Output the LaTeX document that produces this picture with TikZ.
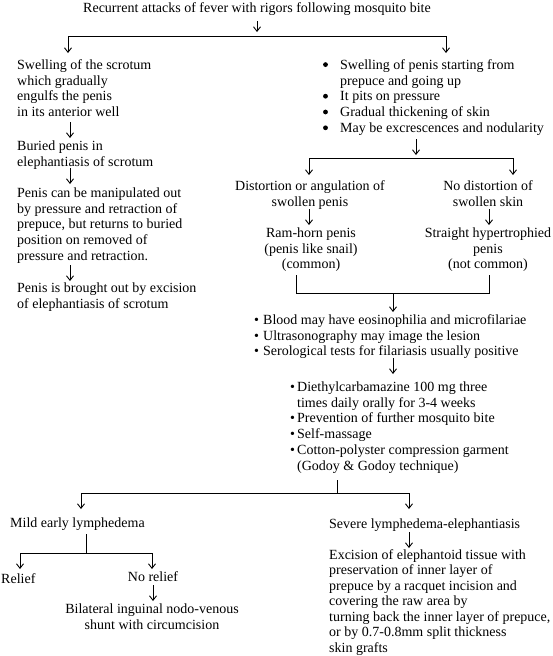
\documentclass[tikz,border=0pt]{standalone}
\usepackage{fontspec}
\setmainfont{Liberation Serif}
\usetikzlibrary{arrows.meta}
\newcommand{\smbul}[1]{\makebox[#1][l]{\textbullet}}
\begin{document}
\begin{tikzpicture}[x=1pt,y=1pt,
  txt/.style={inner sep=0pt, font=\fontsize{14}{15.8}\selectfont},
  blk/.style={txt, anchor=north west, align=left},
  cblk/.style={txt, anchor=north, align=center},
  ln/.style={line width=0.9pt},
  dot/.style={fill=black},
  arr/.style={line width=0.9pt, -{Straight Barb[length=4.5pt,width=7pt,line width=0.9pt]}}]
\fill[white] (0,0) rectangle (553,-656);
\useasboundingbox (0,0) rectangle (553,-656);

% title and first fork
\node[txt, anchor=base] (title) at (257,-12) {Recurrent attacks of fever with rigors following mosquito bite};
\coordinate (t0) at (257,-21); \coordinate (t1) at (257,-32);
\draw[arr] (t0) -- (t1);
\coordinate (j1) at (257,-36); \coordinate (j1l) at (68,-53); \coordinate (j1r) at (446,-53);
\draw[arr] (j1) -| (j1l);
\draw[arr] (j1) -| (j1r);

% left column
\node[blk] (sc1) at (17,-58) {\strut Swelling of the scrotum\\which gradually\\engulfs the penis\\in its anterior well};
\coordinate (a1s) at (70,-122); \coordinate (a1e) at (70,-138);
\draw[arr] (a1s) -- (a1e);
\node[blk] (sc2) at (17,-139) {\strut Buried penis in\\elephantiasis of scrotum};
\coordinate (a2s) at (70,-168); \coordinate (a2e) at (70,-184);
\draw[arr] (a2s) -- (a2e);
\node[blk] (sc3) at (17,-186) {\strut Penis can be manipulated out\\by pressure and retraction of\\prepuce, but returns to buried\\position on removed of\\pressure and retraction.};
\coordinate (a3s) at (70,-265); \coordinate (a3e) at (70,-281);
\draw[arr] (a3s) -- (a3e);
\node[blk] (sc4) at (17,-281) {\strut Penis is brought out by excision\\of elephantiasis of scrotum};

% right column
\node[blk] (pn) at (340,-58) {\strut Swelling of penis starting from\\prepuce and going up\\It pits on pressure\\Gradual thickening of skin\\May be excrescences and nodularity};
\fill[dot] (325.5,-64.6) circle (2.4pt);
\fill[dot] (325.5,-96.2) circle (2.4pt);
\fill[dot] (325.5,-112.0) circle (2.4pt);
\fill[dot] (325.5,-127.8) circle (2.4pt);
\coordinate (a4s) at (416,-139); \coordinate (a4e) at (416,-155);
\draw[arr] (a4s) -- (a4e);
\coordinate (j2) at (416,-158); \coordinate (j2l) at (309,-175); \coordinate (j2r) at (513,-175);
\draw[arr] (j2) -| (j2l);
\draw[arr] (j2) -| (j2r);

\node[cblk] (d1) at (310,-179) {\strut Distortion or angulation of\\swollen penis};
\coordinate (a5s) at (309,-209); \coordinate (a5e) at (309,-225);
\draw[arr] (a5s) -- (a5e);
\node[cblk] (d2) at (311,-226) {\strut Ram-horn penis\\(penis like snail)\\(common)};

\node[cblk] (n1) at (488,-179) {\strut No distortion of\\swollen skin};
\coordinate (a6s) at (489,-209); \coordinate (a6e) at (489,-225);
\draw[arr] (a6s) -- (a6e);
\node[cblk] (n2) at (488,-226) {\strut Straight hypertrophied\\penis\\(not common)};

\coordinate (bk1) at (296,-275); \coordinate (bk2) at (489,-293); \coordinate (bk3) at (489,-275);
\draw[ln] (bk1) |- (bk2) -- (bk3);
\coordinate (a7s) at (393,-293); \coordinate (a7e) at (393,-312);
\draw[arr] (a7s) -- (a7e);

\node[blk] (inv) at (254,-313) {\strut\smbul{9pt}Blood may have eosinophilia and microfilariae\\\smbul{9pt}Ultrasonography may image the lesion\\\smbul{9pt}Serological tests for filariasis usually positive};
\coordinate (a8s) at (393,-358); \coordinate (a8e) at (393,-374);
\draw[arr] (a8s) -- (a8e);

\node[blk] (trt) at (290,-380) {\strut\smbul{7pt}Diethylcarbamazine 100 mg three\\\hspace*{7pt}times daily orally for 3-4 weeks\\\smbul{7pt}Prevention of further mosquito bite\\\smbul{7pt}Self-massage\\\smbul{7pt}Cotton-polyster compression garment\\\hspace*{7pt}(Godoy \& Godoy technique)};

\coordinate (v1) at (337,-480); \coordinate (j3) at (337,-493);
\coordinate (j3l) at (81,-509); \coordinate (j3r) at (409,-509);
\draw[ln] (v1) -- (j3);
\draw[arr] (j3) -| (j3l);
\draw[arr] (j3) -| (j3r);

% bottom left
\node[txt, anchor=base west] (mild) at (10,-527) {Mild early lymphedema};
\coordinate (v2) at (86,-534); \coordinate (j4) at (86,-553);
\coordinate (j4l) at (20,-569); \coordinate (j4r) at (152,-569);
\draw[ln] (v2) -- (j4);
\draw[arr] (j4) -| (j4l);
\draw[arr] (j4) -| (j4r);
\node[txt, anchor=base west] (rel) at (1,-583) {Relief};
\node[txt, anchor=base] (norel) at (153,-581) {No relief};
\coordinate (a9s) at (153,-585); \coordinate (a9e) at (153,-601);
\draw[arr] (a9s) -- (a9e);
\node[cblk] (shunt) at (152,-602) {\strut Bilateral inguinal nodo-venous\\shunt with circumcision};

% bottom right
\node[txt, anchor=base west] (sev) at (329,-528) {Severe lymphedema-elephantiasis};
\coordinate (a10s) at (409,-532); \coordinate (a10e) at (409,-548);
\draw[arr] (a10s) -- (a10e);
\node[blk, font=\fontsize{14}{15.5}\selectfont] (exc) at (329,-548) {\strut Excision of elephantoid tissue with\\preservation of inner layer of\\prepuce by a racquet incision and\\covering the raw area by\\turning back the inner layer of prepuce,\\or by 0.7-0.8mm split thickness\\skin grafts};
\end{tikzpicture}
\end{document}
